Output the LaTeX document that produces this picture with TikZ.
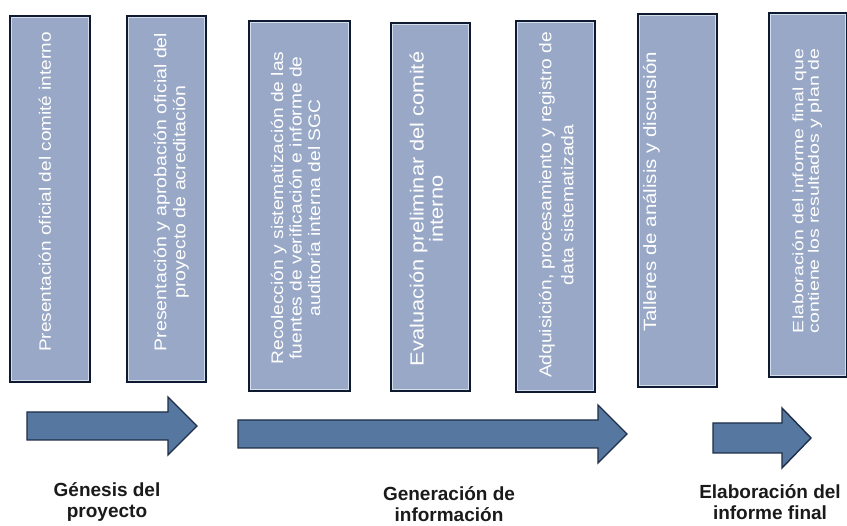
\documentclass[tikz,border=0pt]{standalone}
\usepackage{fontspec}
\setmainfont{Liberation Sans}
\usepackage{graphicx}
\definecolor{boxfill}{HTML}{98A8C6}
\definecolor{boxedge}{HTML}{0E1A30}
\definecolor{boxinner}{HTML}{D6DDEB}
\definecolor{arrowfill}{HTML}{5677A0}
\definecolor{arrowedge}{HTML}{1E2E48}
\definecolor{labeltext}{HTML}{1A1A1A}
\newcommand{\vlines}[4]{\scalebox{#3}[1]{\fontsize{#1}{#2}\selectfont\begin{tabular}{@{}c@{}}#4\end{tabular}}}
\newcommand{\innerframe}[1]{\draw[boxinner, line width=1pt] ([shift={(2.6,2.6)}]#1.north west) rectangle ([shift={(-2.6,-2.6)}]#1.south east);}
\begin{document}
\begin{tikzpicture}[x=1pt,y=-1pt,
  stagebox/.style={draw=boxedge, line width=2.8pt, fill=boxfill, inner sep=0pt, rectangle},
  vtext/.style={rotate=90, text=white, inner sep=0pt, align=center},
  bigarrow/.style={fill=arrowfill, draw=arrowedge, line width=1.4pt, line join=miter},
  phase/.style={font=\fontsize{19}{21}\selectfont\bfseries, text=labeltext, align=center, inner sep=0pt}]
\useasboundingbox (0,0) rectangle (847,526);
\clip (0,0) rectangle (847,526);
\fill[white] (0,0) rectangle (847,526);

% boxes
\node[stagebox, minimum width=79.2pt, minimum height=365.2pt] (b1) at (50,199) {};
\node[stagebox, minimum width=78.2pt, minimum height=365.2pt] (b2) at (166.5,199) {};
\node[stagebox, minimum width=100.2pt, minimum height=369.2pt] (b3) at (299.5,206) {};
\node[stagebox, minimum width=78.2pt, minimum height=367.2pt] (b4) at (430.5,207) {};
\node[stagebox, minimum width=78.2pt, minimum height=370.2pt] (b5) at (555.5,206.5) {};
\node[stagebox, minimum width=78.2pt, minimum height=372.2pt] (b6) at (677.5,200.5) {};
\node[stagebox, minimum width=77.2pt, minimum height=363.2pt] (b7) at (808,195) {};
\innerframe{b1}\innerframe{b2}\innerframe{b3}\innerframe{b4}\innerframe{b5}\innerframe{b6}\innerframe{b7}

% box texts
\node[vtext] (t1) at (47,192) {\vlines{16.5}{19}{1.15}{Presentación oficial del comité interno}};
\node[vtext] (t2) at (172,192) {\vlines{17}{19}{1.15}{Presentación y aprobación oficial del\\proyecto de acreditación}};
\node[vtext] (t3) at (298,208) {\vlines{16.7}{18.5}{1.15}{Recolección y sistematización de las\\fuentes de verificación e informe de\\auditoría interna del SGC}};
\node[vtext] (t4) at (429,209) {\vlines{19}{18.5}{1.15}{Evaluación preliminar del comité\\interno}};
\node[vtext] (t5) at (558,205) {\vlines{17}{22}{1.13}{Adquisición, procesamiento y registro de\\data sistematizada}};
\node[vtext] (t6) at (652,192) {\vlines{17.8}{20}{1.15}{Talleres de análisis y discusión}};
\node[vtext] (t7) at (808,191) {\vlines{15}{15.5}{1.3}{Elaboración del informe final que\\contiene los resultados y plan de}};

% phase arrows
\draw[bigarrow] (27,412) -- (168,412) -- (168,397) -- (197,426) -- (168,455) -- (168,440) -- (27,440) -- cycle;
\draw[bigarrow] (238,420) -- (598,420) -- (598,405) -- (627,434) -- (598,463) -- (598,448) -- (238,448) -- cycle;
\draw[bigarrow] (713,423) -- (782,423) -- (782,408) -- (811,438) -- (782,468) -- (782,453) -- (713,453) -- cycle;

% phase labels
\node[phase] (p1) at (107,502) {Génesis del\\proyecto};
\node[phase] (p2) at (449,504) {Generación de\\información};
\node[phase] (p3) at (770,502) {Elaboración del\\informe final};
\end{tikzpicture}
\end{document}
